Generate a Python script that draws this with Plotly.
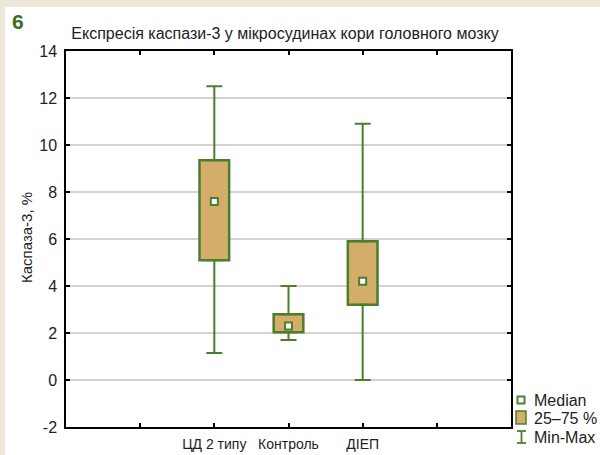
import plotly.graph_objects as go

# Caspase-3 expression per group: min, Q1, median, Q3, max (%)
groups = ["ЦД 2 типу", "Контроль", "ДІЕП"]
mins = [1.15, 1.70, 0.0]
q1s = [5.1, 2.03, 3.2]
medians = [7.6, 2.3, 4.2]
q3s = [9.35, 2.8, 5.9]
maxs = [12.5, 4.0, 10.9]

y_ticks = list(range(-2, 15, 2))
y_tick_text = [str(v) for v in y_ticks]

GREEN = "#4b7f2e"
TAN = "#d4ad6b"
BEIGE = "#eee8da"
TEXT = "#222222"
FONT = "Liberation Sans, Arial, sans-serif"

# groups sit in the middle of a 0..6 axis
pos = [i + 2 for i in range(len(groups))]
tick_pos = list(range(7))
tick_text = ["" for _ in tick_pos]
for p, g in zip(pos, groups):
    tick_text[p] = g

fig = go.Figure()

# lower whiskers (Q1 down to min)
fig.add_trace(go.Scatter(
    x=pos, y=q1s, mode="markers", marker=dict(size=1, color="rgba(0,0,0,0)"),
    error_y=dict(type="data", symmetric=False,
                 array=[0 for _ in q1s],
                 arrayminus=[q - m for q, m in zip(q1s, mins)],
                 color=GREEN, thickness=2, width=8),
    showlegend=False, hoverinfo="skip"))

# upper whiskers (Q3 up to max)
fig.add_trace(go.Scatter(
    x=pos, y=q3s, mode="markers", marker=dict(size=1, color="rgba(0,0,0,0)"),
    error_y=dict(type="data", symmetric=False,
                 array=[m - q for q, m in zip(q3s, maxs)],
                 arrayminus=[0 for _ in q3s],
                 color=GREEN, thickness=2, width=8),
    showlegend=False, hoverinfo="skip"))

# interquartile boxes
fig.add_trace(go.Bar(
    x=pos, y=[b - a for a, b in zip(q1s, q3s)], base=q1s, width=0.4,
    marker=dict(color=TAN, line=dict(color=GREEN, width=2.5)),
    showlegend=False))

# medians
fig.add_trace(go.Scatter(
    x=pos, y=medians, mode="markers",
    marker=dict(symbol="square", size=7, color="white",
                line=dict(color=GREEN, width=2)),
    showlegend=False))

axis_common = dict(showline=True, linecolor="black", linewidth=1.5, mirror="ticks",
                   ticks="inside", ticklen=4, tickcolor="black", tickwidth=1.5,
                   zeroline=False, automargin=False)

fig.update_xaxes(range=[0, 6], tickmode="array", tickvals=tick_pos, ticktext=tick_text,
                 showgrid=False, ticklabelstandoff=3,
                 tickfont=dict(family=FONT, size=14, color=TEXT), **axis_common)
fig.update_yaxes(range=[-2, 14], tickmode="array", tickvals=y_ticks, ticktext=y_tick_text,
                 showgrid=True, gridcolor="#d3d3d3", gridwidth=1.5,
                 ticklabelstandoff=4,
                 tickfont=dict(family=FONT, size=16, color=TEXT), **axis_common)


def px_x(px):
    return (px - 66) / 445


def px_y(py):
    return (427 - py) / 376


shapes = [
    # framing bands
    dict(type="rect", xref="paper", yref="paper", x0=px_x(0), x1=px_x(600),
         y0=px_y(7), y1=px_y(0), fillcolor=BEIGE, line=dict(width=0), layer="below"),
    dict(type="rect", xref="paper", yref="paper", x0=px_x(0), x1=px_x(5),
         y0=px_y(455), y1=px_y(0), fillcolor=BEIGE, line=dict(width=0), layer="below"),
    # legend: median swatch
    dict(type="rect", xref="paper", yref="paper", x0=px_x(517.5), x1=px_x(524.5),
         y0=px_y(403.5), y1=px_y(396.5), fillcolor="white",
         line=dict(color=GREEN, width=2)),
    # legend: quartile box swatch
    dict(type="rect", xref="paper", yref="paper", x0=px_x(516), x1=px_x(526),
         y0=px_y(424), y1=px_y(411), fillcolor=TAN,
         line=dict(color=GREEN, width=1.5)),
    # legend: min-max I-beam
    dict(type="line", xref="paper", yref="paper", x0=px_x(521.5), x1=px_x(521.5),
         y0=px_y(431), y1=px_y(443), line=dict(color=GREEN, width=1.8)),
    dict(type="line", xref="paper", yref="paper", x0=px_x(517), x1=px_x(526),
         y0=px_y(431), y1=px_y(431), line=dict(color=GREEN, width=1.8)),
    dict(type="line", xref="paper", yref="paper", x0=px_x(517), x1=px_x(526),
         y0=px_y(443), y1=px_y(443), line=dict(color=GREEN, width=1.8)),
]
fig.update_layout(shapes=shapes)


def note(text, x, y, size, color=TEXT, xanchor="center", **kw):
    return dict(text=text, x=px_x(x), y=px_y(y), xref="paper", yref="paper",
                xanchor=xanchor, yanchor="middle", showarrow=False,
                font=dict(family=FONT, size=size, color=color), **kw)


annotations = [
    note("<b>6</b>", 18, 21, 21, color="#3b6b22"),
    note("Каспаза-3, %", 26, 238, 15, textangle=-90),
    note("Median", 532, 400, 16, xanchor="left"),
    note("25–75 %", 532, 418, 16, xanchor="left"),
    note("Min-Max", 532, 437, 16, xanchor="left"),
]

fig.update_layout(
    annotations=annotations,
    title=dict(text="Експресія каспази-3 у мікросудинах кори головного мозку",
               x=285 / 600, xanchor="center", y=1 - 33 / 455, yanchor="middle",
               font=dict(family=FONT, size=16, color=TEXT)),
    width=600, height=455,
    margin=dict(l=66, r=89, t=51, b=28),
    paper_bgcolor="white", plot_bgcolor="white",
    showlegend=False, barmode="overlay",
)

fig.write_html("out.html")
